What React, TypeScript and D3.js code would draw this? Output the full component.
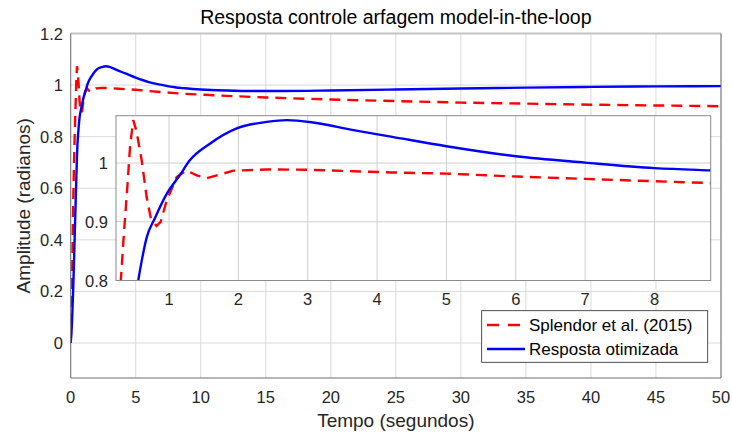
import React from "react";
import * as d3 from "d3";

const titleText = "Resposta controle arfagem model-in-the-loop";
const xLabel = "Tempo (segundos)";
const yLabel = "Amplitude (radianos)";
const seriesNames = ["Splendor et al. (2015)", "Resposta otimizada"];

const xTicks = [0, 5, 10, 15, 20, 25, 30, 35, 40, 45, 50];
const yTicks = [0, 0.2, 0.4, 0.6, 0.8, 1, 1.2];
const yTickLabels = ["0", "0.2", "0.4", "0.6", "0.8", "1", "1.2"];
const insetXTicks = [1, 2, 3, 4, 5, 6, 7, 8];
const insetYTicks = [0.8, 0.9, 1];
const insetYTickLabels = ["0.8", "0.9", "1"];

const redT = [0, 0.05, 0.1, 0.15, 0.2, 0.25, 0.3, 0.35, 0.4, 0.44, 0.485, 0.53, 0.606, 0.678, 0.74, 0.82, 0.88, 0.967, 1.11, 1.25, 1.4, 1.54, 1.69, 1.93, 2.4, 3, 3.66, 4.2, 5, 6, 7, 8, 8.8, 10, 12, 15, 20, 25, 30, 35, 40, 45, 50];
const redV = [0, 0.08, 0.22, 0.4, 0.56, 0.69, 0.79, 0.88, 0.96, 1.03, 1.073, 1.055, 1.005, 0.942, 0.905, 0.893, 0.9, 0.936, 0.976, 0.9875, 0.979, 0.974, 0.979, 0.987, 0.989, 0.9886, 0.986, 0.984, 0.982, 0.977, 0.973, 0.969, 0.966, 0.963, 0.958, 0.952, 0.944, 0.938, 0.932, 0.928, 0.924, 0.921, 0.918];

const blueT = [0, 0.1, 0.2, 0.3, 0.4, 0.48, 0.52, 0.557, 0.606, 0.678, 0.8, 0.967, 1.16, 1.3, 1.59, 1.976, 2.41, 2.7, 3.08, 3.66, 4.2, 5, 6, 7, 8, 8.8, 10, 12, 14, 16, 20, 25, 30, 35, 40, 45, 50];
const blueV = [0, 0.08, 0.22, 0.4, 0.58, 0.72, 0.77, 0.8, 0.833, 0.873, 0.907, 0.9475, 0.98, 1.0046, 1.033, 1.059, 1.07, 1.073, 1.069, 1.056, 1.045, 1.0286, 1.0115, 1.0007, 0.9914, 0.9875, 0.983, 0.979, 0.977, 0.977, 0.979, 0.983, 0.987, 0.99, 0.993, 0.995, 0.996];

const FONT = "'Liberation Sans', Arial, Helvetica, sans-serif";
const TXT = "#262626";

export default function App() {
  const W = 732, H = 434;
  const L = 70.7, R = 721, T = 33.5, B = 378;
  const x = d3.scaleLinear().domain([0, 50]).range([L, R]);
  const y = d3.scaleLinear().domain([0, 1.2]).range([343, T]);

  const iL = 116, iR = 710.7, iT = 115.7, iB = 280.5;
  const ix = d3.scaleLinear().domain([0.236, 8.81]).range([iL, iR]);
  const iy = d3.scaleLinear().domain([0.8, 1.0806]).range([iB, iT]);

  const red = redT.map((t, i) => [t, redV[i]] as [number, number]);
  const blue = blueT.map((t, i) => [t, blueV[i]] as [number, number]);

  const redMain = d3.line<[number, number]>().x(d => x(d[0])).y(d => y(d[1]))(red) || "";
  const blueMain = d3.line<[number, number]>().x(d => x(d[0])).y(d => y(d[1])).curve(d3.curveMonotoneX)(blue) || "";
  const redIn = d3.line<[number, number]>().x(d => ix(d[0])).y(d => iy(d[1]))(red) || "";
  const blueIn = d3.line<[number, number]>().x(d => ix(d[0])).y(d => iy(d[1])).curve(d3.curveMonotoneX)(blue) || "";

  const grid = "#dadada";
  const axisCol = "#6e6e6e";
  const LW = 2.4;

  return (
    <svg width={W} height={H} style={{ position: "absolute", left: 0, top: 0, background: "#fff" }} fontFamily={FONT}>
      <defs>
        <clipPath id="mainClip"><rect x={L} y={T} width={R - L} height={B - T} /></clipPath>
        <clipPath id="inClip"><rect x={iL} y={iT} width={iR - iL} height={iB - iT} /></clipPath>
      </defs>
      <rect x={0} y={0} width={W} height={H} fill="#fff" />
      {xTicks.map(v => (
        <line key={"gx" + v} x1={x(v)} x2={x(v)} y1={T} y2={B} stroke={grid} strokeWidth={1} />
      ))}
      {yTicks.map(v => (
        <line key={"gy" + v} x1={L} x2={R} y1={y(v)} y2={y(v)} stroke={grid} strokeWidth={1} />
      ))}
      <g clipPath="url(#mainClip)">
        <path d={redMain} fill="none" stroke="#ff0000" strokeWidth={LW} strokeDasharray="11,7" />
        <path d={blueMain} fill="none" stroke="#0000ff" strokeWidth={LW} />
      </g>
      <line x1={L} x2={R} y1={T} y2={T} stroke="#c4c4c4" strokeWidth={2} />
      <line x1={R} x2={R} y1={T} y2={B} stroke={axisCol} strokeWidth={1} />
      <line x1={L} x2={L} y1={T} y2={B} stroke={axisCol} strokeWidth={1} />
      <line x1={L} x2={R} y1={B} y2={B} stroke={axisCol} strokeWidth={1} />
      {xTicks.map(v => (
        <text key={"tx" + v} x={x(v)} y={403} fontSize={16.5} fill={TXT} textAnchor="middle">{v}</text>
      ))}
      {yTicks.map((v, i) => (
        <text key={"ty" + v} x={63} y={y(v) + 6} fontSize={16.5} fill={TXT} textAnchor="end">{yTickLabels[i]}</text>
      ))}
      <text x={(L + R) / 2} y={427} fontSize={19} fill={TXT} textAnchor="middle">{xLabel}</text>
      <text transform={`translate(30,${(T + B) / 2}) rotate(-90)`} fontSize={19} fill={TXT} textAnchor="middle">{yLabel}</text>
      <text x={(L + R) / 2} y={24} fontSize={19.5} fill="#000" textAnchor="middle">{titleText}</text>

      <rect x={iL} y={iT} width={iR - iL} height={iB - iT} fill="#fff" />
      {insetXTicks.map(v => (
        <line key={"igx" + v} x1={ix(v)} x2={ix(v)} y1={iT} y2={iB} stroke="#cfcfcf" strokeWidth={1} />
      ))}
      {insetYTicks.map(v => (
        <line key={"igy" + v} x1={iL} x2={iR} y1={iy(v)} y2={iy(v)} stroke="#cfcfcf" strokeWidth={1} />
      ))}
      <g clipPath="url(#inClip)">
        <path d={redIn} fill="none" stroke="#ff0000" strokeWidth={LW} strokeDasharray="11,7" />
        <path d={blueIn} fill="none" stroke="#0000ff" strokeWidth={LW} />
      </g>
      <rect x={iL} y={iT} width={iR - iL} height={iB - iT} fill="none" stroke="#8a8a8a" strokeWidth={1} />
      {insetXTicks.map(v => (
        <text key={"itx" + v} x={ix(v)} y={305} fontSize={16.5} fill={TXT} textAnchor="middle">{v}</text>
      ))}
      {insetYTicks.map((v, i) => (
        <text key={"ity" + v} x={108} y={iy(v) + 6} fontSize={16.5} fill={TXT} textAnchor="end">{insetYTickLabels[i]}</text>
      ))}

      <rect x={481.7} y={310.7} width={226} height={51.6} fill="#fff" stroke="#262626" strokeWidth={0.8} />
      <line x1={487} x2={525} y1={325} y2={325} stroke="#ff0000" strokeWidth={LW} strokeDasharray="12,9" />
      <line x1={487} x2={525} y1={349} y2={349} stroke="#0000ff" strokeWidth={LW} />
      <text x={529} y={331} fontSize={17} fill="#000">{seriesNames[0]}</text>
      <text x={529} y={355} fontSize={17} fill="#000">{seriesNames[1]}</text>
    </svg>
  );
}
